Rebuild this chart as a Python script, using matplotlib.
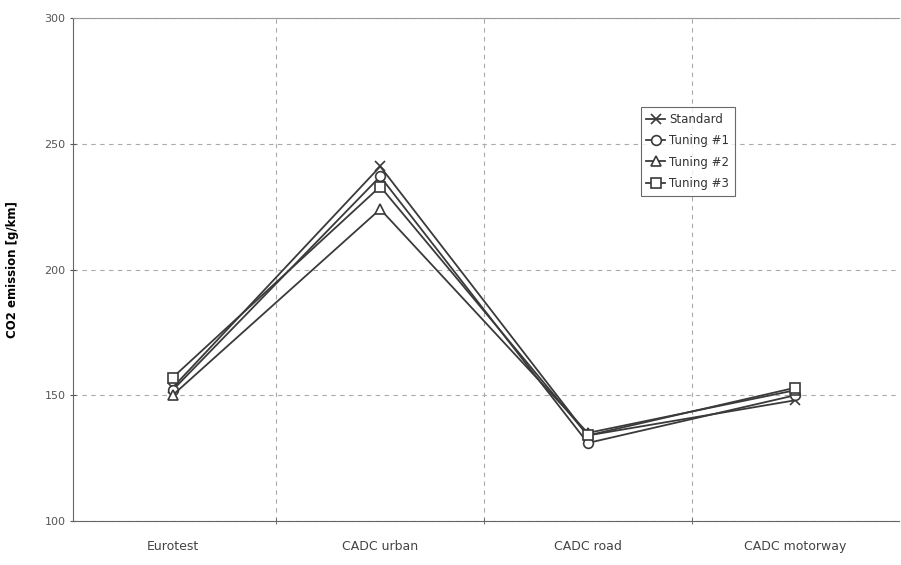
import matplotlib.pyplot as plt

# values
cycles = ["Eurotest", "CADC urban", "CADC road", "CADC motorway"]
standard = [153, 241, 134, 148]
tuning1 = [152, 237, 131, 150]
tuning2 = [150, 224, 135, 152]
tuning3 = [157, 233, 134, 153]
y_ticks = [100, 150, 200, 250, 300]

series = [
    ("Standard", standard, "x"),
    ("Tuning #1", tuning1, "o"),
    ("Tuning #2", tuning2, "^"),
    ("Tuning #3", tuning3, "s"),
]

fig = plt.figure(figsize=(9.01, 5.65), dpi=100)
ax = fig.add_axes([0.081, 0.078, 0.917, 0.89])

x = list(range(len(cycles)))
for name, vals, mk in series:
    ax.plot(x, vals, color="#3a3a3a", lw=1.3, marker=mk, markersize=7,
            markerfacecolor="white", markeredgecolor="#3a3a3a", markeredgewidth=1.2,
            label=name)

ax.set_xlim(-0.48, 3.5)
ax.set_ylim(100, 300)
ax.set_yticks(y_ticks)
ax.set_xticks(x)
ax.set_xticklabels(cycles, fontsize=9, color="#444444")
ax.tick_params(axis="x", length=0, pad=14)
ax.tick_params(axis="y", labelsize=8, colors="#555555", length=4, direction="inout")

# grid lines sit between the categories
ax.set_xticks([0.5, 1.5, 2.5], minor=True)
ax.tick_params(axis="x", which="minor", length=4, direction="inout", color="#555555")
ax.grid(axis="y", which="major", ls=(0, (4, 4)), color="#aaaaaa", lw=0.8)
ax.grid(axis="x", which="minor", ls=(0, (4, 4)), color="#aaaaaa", lw=0.8)

for side in ["left", "bottom"]:
    ax.spines[side].set_color("#666666")
ax.spines["top"].set_color("#999999")
ax.spines["top"].set_linewidth(0.8)
ax.spines["right"].set_visible(False)

ax.set_ylabel("CO2 emission [g/km]", fontsize=8.5, fontweight="bold", labelpad=18)

leg = ax.legend(loc="upper left", bbox_to_anchor=(0.687, 0.823), fontsize=8.5,
                frameon=True, fancybox=False, handlelength=1.6, handletextpad=0.3,
                borderpad=0.5, labelspacing=0.7, borderaxespad=0)
leg.get_frame().set_edgecolor("#444444")
leg.get_frame().set_linewidth(0.8)
for t in leg.get_texts():
    t.set_color("#333333")

fig.savefig("out.png", dpi=100)
